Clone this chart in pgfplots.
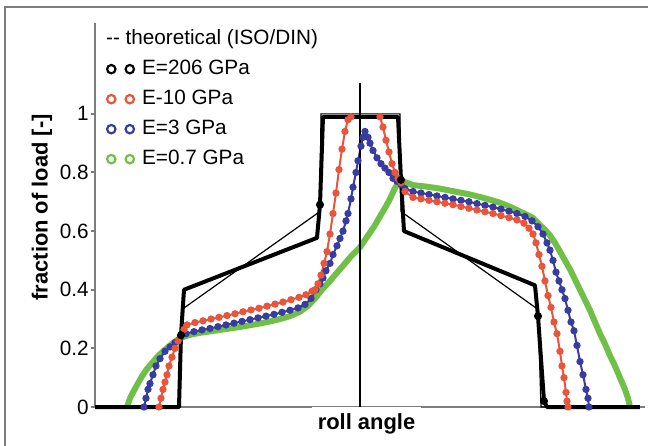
\documentclass[border=0pt]{standalone}
\usepackage{pgfplots}
\pgfplotsset{compat=1.18}
\usepackage{fontspec}
\setmainfont{Liberation Sans}
\definecolor{cRed}{RGB}{232,85,58}
\definecolor{cBlue}{RGB}{55,60,160}
\definecolor{cGreen}{RGB}{112,192,72}
\definecolor{cAxis}{RGB}{125,125,125}
\begin{document}
\begin{tikzpicture}
\path[use as bounding box] (-47.5bp,-19.5bp) rectangle (276.5bp,203.5bp);
\draw[cAxis, line width=0.8bp] (-45bp,-19.5bp) -- (-45bp,200bp) -- (276.5bp,200bp);
\begin{axis}[
  scale only axis, width=275bp, height=192bp,
  xmin=95, xmax=645, ymin=0, ymax=1.31,
  clip=false,
  axis lines*=left,
  axis line style={cAxis, line width=1.4bp},
  xtick=\empty,
  ytick={0,0.2,0.4,0.6,0.8,1},
  yticklabels={0,0.2,0.4,0.6,0.8,1},
  tick align=outside, major tick length=2bp,
  ytick style={cAxis, line width=1bp},
  tick label style={font=\fontsize{10.4}{12}\selectfont},
  yticklabel style={inner sep=1bp},
  /pgf/number format/assume math mode=true,
  xlabel={roll angle},
  xlabel style={at={(axis cs:366.5,0)}, anchor=north, inner sep=3bp, fill=white, font=\fontsize{11}{13}\bfseries},
  ylabel={fraction of load [-]},
  ylabel style={at={(axis description cs:-0.0964,0.52)}, anchor=center, font=\fontsize{11}{13}\bfseries},
  legend style={at={(axis cs:106,1.289)}, anchor=north west, draw=none, fill=none, inner sep=0pt, outer sep=0pt, row sep=5bp, column sep=3.5bp, font=\fontsize{10.4}{12}\selectfont, nodes={inner sep=0pt, text height=7.5bp, text depth=2.5bp}},
  legend cell align=left,
]
\addlegendimage{empty legend}
\addlegendentry{\hspace*{-18bp}-{}- theoretical (ISO/DIN)}
\addlegendimage{legend image code/.code={\draw[black, line width=1.1bp] (0bp,0bp) circle[radius=2.1bp] (9.25bp,0bp) circle[radius=2.1bp];}}
\addlegendentry{E=206 GPa}
\addlegendimage{legend image code/.code={\draw[cRed, line width=1.1bp] (0bp,0bp) circle[radius=2.1bp] (9.25bp,0bp) circle[radius=2.1bp];}}
\addlegendentry{E-10 GPa}
\addlegendimage{legend image code/.code={\draw[cBlue, line width=1.1bp] (0bp,0bp) circle[radius=2.1bp] (9.25bp,0bp) circle[radius=2.1bp];}}
\addlegendentry{E=3 GPa}
\addlegendimage{legend image code/.code={\draw[cGreen, line width=1.1bp] (0bp,0bp) circle[radius=2.1bp] (9.25bp,0bp) circle[radius=2.1bp];}}
\addlegendentry{E=0.7 GPa}

% E = 0.7 GPa
\addplot[forget plot, cGreen, line width=3bp, line join=round] coordinates {
(127,0) (130,0.03) (133,0.05) (137,0.075) (142,0.105) (147,0.13) (152,0.15) (157,0.17) (163,0.19) (170,0.21) (177,0.228) (184,0.24) (192,0.248) (200,0.253) (210,0.258) (220,0.263) (230,0.268) (240,0.273) (250,0.279) (260,0.285) (270,0.292) (280,0.30) (290,0.31) (300,0.325) (308,0.345) (315,0.37) (322,0.40) (330,0.43) (340,0.47) (350,0.51) (360,0.545) (367,0.58) (374,0.615) (380,0.65) (386,0.685) (390,0.71) (394,0.74) (398,0.765) (403,0.77)
(413,0.757) (426,0.752) (440,0.745) (455,0.735) (470,0.725) (485,0.712) (500,0.697) (512,0.68) (523,0.662) (533,0.645) (540,0.62) (545,0.605) (550,0.585) (555,0.56) (560,0.53) (565,0.50) (570,0.47) (575,0.435) (580,0.40) (585,0.365) (590,0.33) (595,0.29) (600,0.25) (605,0.215) (610,0.175) (615,0.14) (620,0.10) (625,0.06) (628,0.03) (630,0)
};
% E = 3 GPa
\addplot[forget plot, cBlue, line width=1bp, mark=*, mark size=1.3bp] coordinates {
(144,0) (146,0.03) (148,0.06) (150,0.08) (153,0.11) (156,0.14) (160,0.165) (165,0.19) (170,0.205) (175,0.22) (180,0.235) (186,0.25)
(194,0.257) (202,0.263) (210,0.268) (218,0.274) (226,0.28) (234,0.286) (242,0.292) (250,0.298) (258,0.304) (266,0.31) (274,0.316) (282,0.323) (290,0.33) (298,0.338) (305,0.35) (311,0.37) (316,0.40)
(320,0.42) (323,0.44) (326,0.465) (330,0.49) (333,0.52) (337,0.55) (340,0.575) (343,0.60) (346,0.635) (348,0.66) (351,0.71) (353,0.75) (356,0.80) (358,0.84) (361,0.89) (363,0.92) (365,0.94)
(368,0.92) (370,0.90) (373,0.875) (377,0.85) (381,0.83) (385,0.815) (389,0.80) (393,0.78) (397,0.77) (401,0.76)
(405,0.745) (413,0.735) (421,0.73) (429,0.725) (437,0.72) (445,0.715) (453,0.71) (461,0.705) (469,0.70) (477,0.694) (485,0.688) (493,0.682) (501,0.675) (509,0.668) (517,0.66) (525,0.65) (532,0.635) (538,0.615) (543,0.59) (547,0.56) (550,0.535)
(553,0.50) (556,0.46) (559,0.43) (562,0.40) (565,0.37) (568,0.33) (571,0.29) (574,0.26) (577,0.21) (580,0.155) (583,0.11) (586,0.06) (588,0.03) (589,0)
};
% E = 10 GPa
\addplot[forget plot, cRed, line width=1bp, mark=*, mark size=1.3bp] coordinates {
(159,0) (161,0.03) (163,0.06) (165,0.085) (167,0.11) (169,0.14) (172,0.17) (175,0.20) (178,0.225) (181,0.245) (184,0.265) (187,0.28)
(195,0.288) (203,0.294) (211,0.30) (219,0.306) (227,0.312) (235,0.318) (243,0.325) (251,0.331) (259,0.337) (267,0.344) (275,0.351) (283,0.358) (291,0.366) (299,0.374) (306,0.383) (312,0.395)
(315,0.40) (318,0.42) (321,0.45) (324,0.49) (327,0.53) (330,0.59) (333,0.66) (336,0.73) (339,0.81) (342,0.88) (345,0.94) (348,0.98) (351,0.99)
(380,0.99) (383,0.955) (386,0.91) (389,0.87) (392,0.83) (395,0.80) (398,0.78) (401,0.765) (405,0.735)
(413,0.715) (421,0.71) (429,0.705) (437,0.70) (445,0.695) (453,0.69) (461,0.684) (469,0.678) (477,0.672) (485,0.666) (493,0.66) (501,0.653) (509,0.646) (517,0.638) (524,0.627) (529,0.61) (533,0.59)
(536,0.56) (539,0.52) (542,0.48) (545,0.43) (548,0.38) (551,0.34) (554,0.29) (557,0.25) (560,0.19) (562,0.14) (564,0.10) (566,0.05) (567,0.02) (568,0)
};
% theoretical (ISO/DIN)
\addplot[forget plot, black, line width=0.6bp] coordinates {
(95,0) (180,0) (182,0.333) (320,0.667) (321,1) (400,1) (401,0.667) (538,0.333) (541,0) (640,0)
};
% E = 206 GPa
\addplot[forget plot, black, line width=2bp, line join=round] coordinates {
(95,0) (179,0) (181,0.245) (184,0.40) (317,0.577) (320,0.69) (323,0.99) (398,0.99) (401,0.775) (404,0.60) (535,0.415) (538,0.31) (544,0.02) (547,0) (640,0)
};
\addplot[forget plot, black, only marks, mark=*, mark size=1.8bp] coordinates {
(181,0.245) (320,0.69) (401,0.775) (538,0.31) (544,0.02)
};
% centre line
\addplot[forget plot, black, line width=0.6bp] coordinates {(360,0) (360,1.106)};
\end{axis}
\end{tikzpicture}
\end{document}
